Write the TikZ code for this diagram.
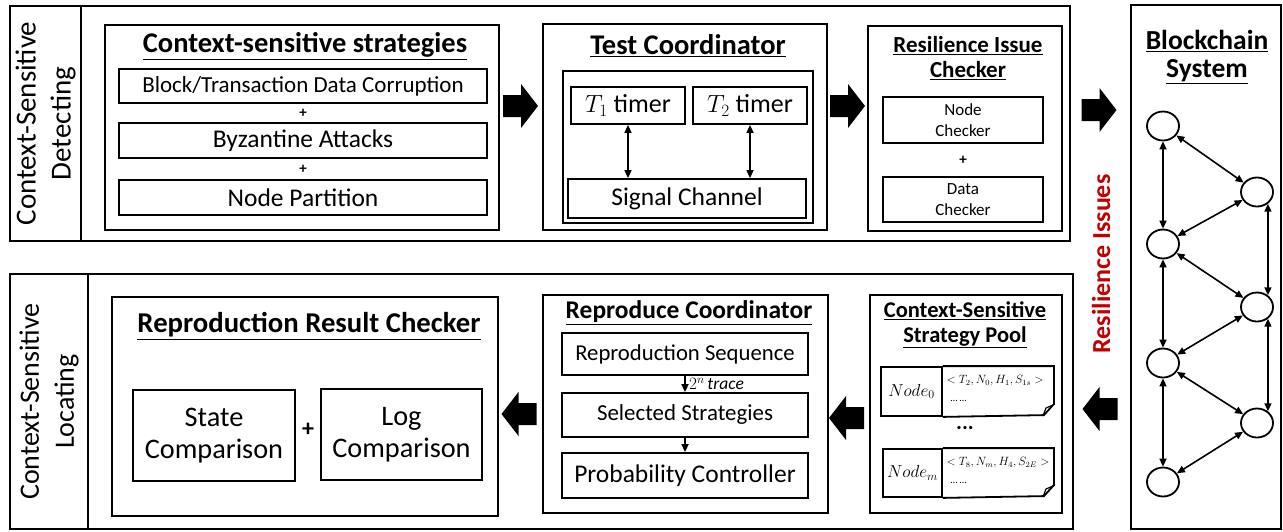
\documentclass[tikz,border=0pt]{standalone}
\usepackage{fontspec}
\setmainfont{Carlito}
\usetikzlibrary{arrows.meta,shapes.geometric}

\newlength{\du}
\setlength{\du}{1pt}
\newcommand{\fsz}[2]{\fontsize{#1}{#2}\selectfont}
\definecolor{issuered}{RGB}{192,0,0}

\tikzset{
  frame/.style={draw, line width=2.2\du, inner sep=0pt},
  box/.style={draw, line width=1.8\du, inner sep=0pt, align=center},
  peer/.style={draw, ellipse, line width=1.8\du, minimum width=32\du, minimum height=29\du, inner sep=0pt},
  link/.style={line width=1.6\du, {Triangle[length=8pt,width=7pt]}-{Triangle[length=8pt,width=7pt]}},
  flow/.style={line width=1.6\du, -{Triangle[length=8pt,width=7pt]}},
  heading/.style={font=\bfseries\fsz{#1}{#1}, inner sep=0pt, align=center},
  fatarrow/.pic={\fill (-17.5\du,-11\du) -- (0.5\du,-11\du) -- (0.5\du,-22\du) -- (17.5\du,0\du)
    -- (0.5\du,22\du) -- (0.5\du,11\du) -- (-17.5\du,11\du) -- cycle;}
}

\begin{document}
\begin{tikzpicture}[yscale=-1]
\useasboundingbox (0,0) rectangle (1283\du,531\du);

% detecting row
\node[frame, minimum width=71\du, minimum height=235\du] (detlabel) at (45.5\du,123.5\du) {};
\node[rotate=90, align=center, font=\fsz{29}{35}] at (detlabel.center) {Context-Sensitive\\Detecting};
\node[frame, minimum width=989\du, minimum height=235\du] (detrow) at (575.5\du,123.5\du) {};

\node[box, minimum width=394\du, minimum height=205\du] (csbox) at (302\du,127.5\du) {};
\node[heading=28.5] (cstitle) at (305\du,46\du) {\underline{Context-sensitive strategies}};
\node[box, minimum width=368\du, minimum height=34\du, font=\fsz{23}{27}] (blockbox) at (303\du,86\du) {Block/Transaction Data Corruption};
\node[box, minimum width=368\du, minimum height=35\du, font=\fsz{25.5}{30}] (byzbox) at (303\du,140.5\du) {Byzantine Attacks};
\node[box, minimum width=368\du, minimum height=35\du, font=\fsz{25.5}{30}] (partbox) at (303\du,197.5\du) {Node Partition};
\node[font=\bfseries\fsz{15}{15}] at (303\du,113\du) {+};
\node[font=\bfseries\fsz{15}{15}] at (303\du,169\du) {+};

\pic at (520.5\du,106\du) {fatarrow};

\node[box, minimum width=284\du, minimum height=206\du] (tcbox) at (685\du,127\du) {};
\node[heading=28.5] (tctitle) at (688\du,46\du) {\underline{Test Coordinator}};
\node[box, minimum width=250\du, minimum height=152\du] (tcinner) at (688\du,147\du) {};
\node[box, minimum width=114\du, minimum height=37\du, font=\fsz{26}{30}] (t1box) at (628\du,105.5\du) {$T_1$ timer};
\node[box, minimum width=114\du, minimum height=37\du, font=\fsz{26}{30}] (t2box) at (750\du,105.5\du) {$T_2$ timer};
\node[box, minimum width=238\du, minimum height=39\du, font=\fsz{25.5}{30}] (sigbox) at (687\du,198.5\du) {Signal Channel};
\draw[link] (t1box.south) -- (t1box.south |- sigbox.north);
\draw[link] (t2box.south) -- (t2box.south |- sigbox.north);

\pic at (847.5\du,106\du) {fatarrow};

\node[box, minimum width=194\du, minimum height=205\du] (ricbox) at (965\du,128.5\du) {};
\node[heading=23] (rictitle) at (968\du,58\du) {\underline{Resilience Issue}\\[2\du]\underline{Checker}};
\node[box, minimum width=160\du, minimum height=46\du, font=\fsz{17}{21}] (ncbox) at (963\du,120\du) {Node\\Checker};
\node[font=\bfseries\fsz{15}{15}] at (963\du,160\du) {+};
\node[box, minimum width=160\du, minimum height=45\du, font=\fsz{17}{21}] (dcbox) at (963\du,199.5\du) {Data\\Checker};

\pic at (1099\du,110\du) {fatarrow};

% blockchain
\node[frame, minimum width=150\du, minimum height=524\du] (chainbox) at (1206\du,267\du) {};
\node[heading=27.5] (chaintitle) at (1207\du,57\du) {\underline{Blockchain}\\[1\du]\underline{System}};
\node[peer] (l1) at (1163\du,126\du) {};
\node[peer] (l2) at (1163\du,244\du) {};
\node[peer] (l3) at (1163\du,363\du) {};
\node[peer] (l4) at (1163\du,482\du) {};
\node[peer] (r1) at (1257\du,192\du) {};
\node[peer] (r2) at (1257\du,307\du) {};
\node[peer] (r3) at (1257\du,423\du) {};
\draw[link] (l1) -- (l2);
\draw[link] (l2) -- (l3);
\draw[link] (l3) -- (l4);
\draw[link] (r1.-47) -- (r2.47);
\draw[link] (r2.-47) -- (r3.47);
\draw[link] (l1) -- (r1);
\draw[link] (r1) -- (l2);
\draw[link] (l2) -- (r2);
\draw[link] (r2) -- (l3);
\draw[link] (l3) -- (r3);
\draw[link] (r3) -- (l4);

\node[rotate=90, text=issuered, font=\bfseries\fsz{26}{26}] (issues) at (1101\du,264\du) {Resilience Issues};

% locating row
\node[frame, minimum width=78\du, minimum height=255\du] (loclabel) at (49\du,401.5\du) {};
\node[rotate=90, align=center, font=\fsz{28}{35}] at (loclabel.center) {Context-Sensitive\\Locating};
\node[frame, minimum width=985\du, minimum height=255\du] (locrow) at (580.5\du,401.5\du) {};

\pic[rotate=180] at (1100\du,409\du) {fatarrow};

\node[box, minimum width=192\du, minimum height=218\du] (poolbox) at (966\du,404\du) {};
\node[heading=22.5] (pooltitle) at (965\du,325\du) {\underline{Context-Sensitive}\\[2\du]\underline{Strategy Pool}};
\node[box, minimum width=61\du, minimum height=49\du, font=\fsz{17}{17}] (n0key) at (911.5\du,391.5\du) {$Node_0$};
\draw[line width=1.8\du] (n0key.north east) -- ++(111\du,0) -- ++(0,38\du) -- ++(-10\du,11\du) -- (n0key.south east);
\draw[line width=1.2\du] (1043\du,416\du) -- (1046\du,408\du) -- (1053\du,405\du);
\node[anchor=west, font=\fsz{12}{12}] (n0seq) at (943\du,381\du) {$<T_2,N_0,H_1,S_{1s}>$};
\node[anchor=west, font=\fsz{10}{10}] at (947\du,401\du) {\dots\ \dots};
\node[font=\bfseries\fsz{22}{22}] (pooldots) at (965\du,428\du) {...};
\node[box, minimum width=59\du, minimum height=48\du, font=\fsz{17}{17}] (nmkey) at (912.5\du,473\du) {$Node_m$};
\draw[line width=1.8\du] (nmkey.north east) -- ++(111\du,0) -- ++(0,37\du) -- ++(-10\du,11\du) -- (nmkey.south east);
\draw[line width=1.2\du] (1043\du,497\du) -- (1046\du,489\du) -- (1053\du,486\du);
\node[anchor=west, font=\fsz{12}{12}] (nmseq) at (943\du,463\du) {$<T_8,N_m,H_4,S_{2E}>$};
\node[anchor=west, font=\fsz{10}{10}] at (947\du,483\du) {\dots\ \dots};

\pic[rotate=180] at (846.5\du,418\du) {fatarrow};

\node[box, minimum width=285\du, minimum height=218\du] (rcbox) at (685.5\du,404\du) {};
\node[heading=25.5] (rctitle) at (689\du,313\du) {\underline{Reproduce Coordinator}};
\node[box, minimum width=246\du, minimum height=42\du, font=\fsz{22.7}{27}] (seqbox) at (685\du,354\du) {Reproduction Sequence};
\node[box, minimum width=246\du, minimum height=44\du, font=\fsz{22.9}{27}] (selbox) at (685\du,415\du) {Selected Strategies};
\node[box, minimum width=246\du, minimum height=45\du, font=\fsz{25.5}{30}] (probbox) at (685\du,475.5\du) {Probability Controller};
\draw[flow] (seqbox.south) -- (selbox.north) node[midway, right, font=\fsz{17.5}{17.5}] {$2^n\,\mathit{trace}$};
\draw[flow] (selbox.south) -- (probbox.north);

\pic[rotate=180] at (519\du,414\du) {fatarrow};

\node[box, minimum width=386\du, minimum height=219\du] (rrcbox) at (305\du,406.5\du) {};
\node[heading=28.7] (rrctitle) at (309\du,326\du) {\underline{Reproduction Result Checker}};
\node[box, minimum width=162\du, minimum height=91\du, font=\fsz{28.3}{32}] (statebox) at (214\du,435.5\du) {State\\Comparison};
\node[box, minimum width=161\du, minimum height=91\du, font=\fsz{28.3}{32}] (logbox) at (401.5\du,434.5\du) {Log\\Comparison};
\node[font=\bfseries\fsz{24}{24}] at (308\du,430\du) {+};
\end{tikzpicture}
\end{document}
